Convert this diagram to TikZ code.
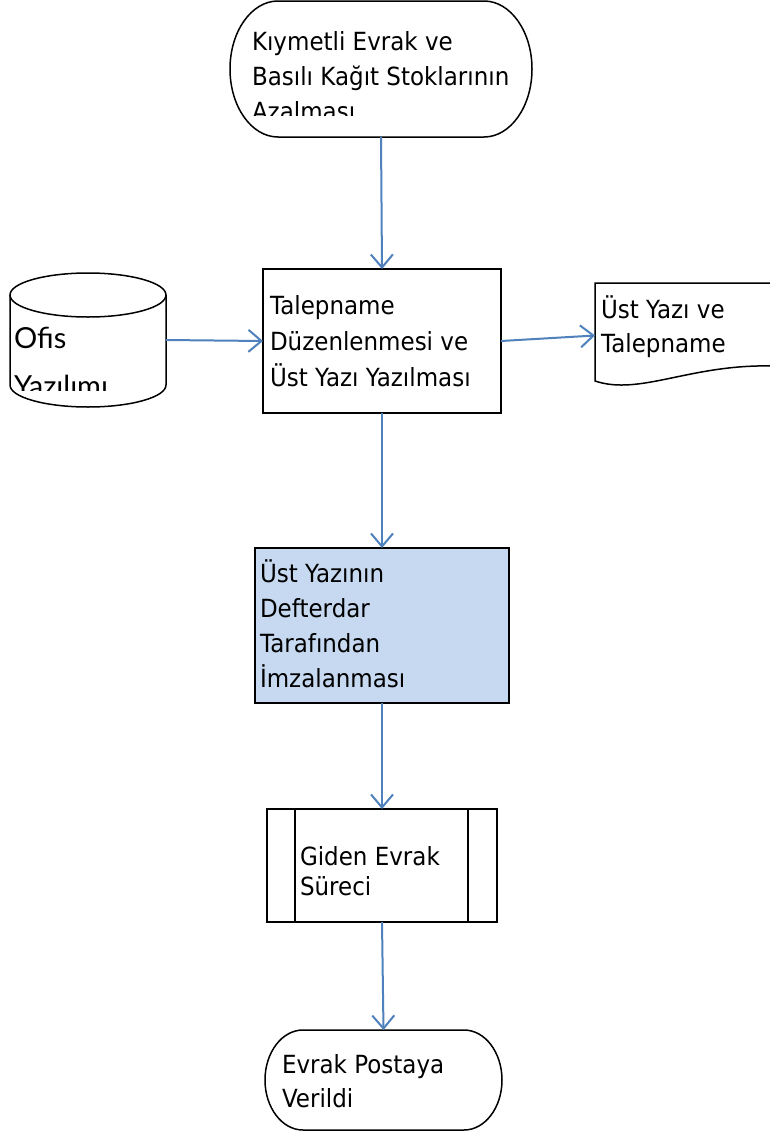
\documentclass[tikz,border=0pt]{standalone}
\usepackage{fontspec}
\setmainfont{DejaVu Sans}[FakeStretch=0.92]
\newfontfamily\gillfont{Lato}
\usetikzlibrary{arrows.meta}
\definecolor{arrowblue}{HTML}{4F81BD}
\definecolor{boxblue}{HTML}{C6D9F1}
\newcommand\boxtext[5]{%
  \node[txt] (#1) at (#2) {\fontsize{25}{#3}\selectfont\parbox[t]{#4}{\raggedright #5}};}
\tikzset{
  shp/.style={draw=black, line width=1.5pt},
  ghost/.style={inner sep=0pt, outer sep=0pt},
  txt/.style={anchor=base west, inner sep=0pt, outer sep=0pt},
  flow/.style={draw=arrowblue, line width=2pt, -{Straight Barb[length=13pt,width=22pt]}},
}
\begin{document}
\begin{tikzpicture}[x=1pt,y=-1pt]
\useasboundingbox (0,0) rectangle (770,1135);
\fill[white] (0,0) rectangle (770,1135);

% start terminator
\draw[shp] (278,1) -- (484,1) arc[start angle=-90, end angle=90, x radius=48, y radius=68]
  -- (278,137) arc[start angle=90, end angle=270, x radius=48, y radius=68] -- cycle;
\node[ghost, minimum width=302pt, minimum height=136pt] (start) at (381,69) {};
\begin{scope}
  \clip (230,0) rectangle (532,115);
  \boxtext{starttext}{252,50}{35}{10cm}{Kıymetli Evrak ve\\Basılı Kağıt Stoklarının\\Azalması}
\end{scope}

% cylinder
\draw[shp, fill=white] (10,295) -- (10,385) arc[start angle=180, end angle=0, x radius=78, y radius=22] -- (166,295);
\draw[shp] (88,295) ellipse[x radius=78, y radius=22];
\node[ghost, minimum width=156pt, minimum height=134pt] (cyl) at (88,340) {};
\begin{scope}
  \clip (10,320) rectangle (166,390);
  \node[txt, font=\gillfont\fontsize{29}{48}\selectfont] (cyltext) at (14,348) {\parbox[t]{4cm}{\raggedright Ofis\\Yazılımı}};
\end{scope}

% process box
\node[shp, ghost, minimum width=238pt, minimum height=144pt] (tal) at (382,341) {};
\boxtext{taltext}{270,314}{36}{8cm}{Talepname\\Düzenlenmesi ve\\Üst Yazı Yazılması}

% document
\draw[shp] (772,283) -- (595,283) -- (595,381) .. controls (640,396) and (690,364) .. (772,366);
\node[ghost, minimum width=175pt, minimum height=105pt] (doc) at (682.5,335.5) {};
\boxtext{doctext}{601,318}{34}{6cm}{Üst Yazı ve\\Talepname}

% signing box
\node[shp, ghost, fill=boxblue, minimum width=254pt, minimum height=155pt] (sign) at (382,625.5) {};
\boxtext{signtext}{260,582}{35}{8cm}{Üst Yazının\\Defterdar\\Tarafından\\İmzalanması}

% predefined process
\node[shp, ghost, minimum width=230pt, minimum height=113pt] (sub) at (382,865.5) {};
\draw[shp] (295,809) -- (295,922);
\draw[shp] (468,809) -- (468,922);
\boxtext{subtext}{300,865}{30}{6cm}{Giden Evrak\\Süreci}

% end terminator
\draw[shp] (303,1030) -- (464,1030) arc[start angle=-90, end angle=90, x radius=38, y radius=50]
  -- (303,1130) arc[start angle=90, end angle=270, x radius=38, y radius=50] -- cycle;
\node[ghost, minimum width=237pt, minimum height=100pt] (end) at (383.5,1080) {};
\boxtext{endtext}{282,1073}{34}{7cm}{Evrak Postaya\\Verildi}

% connectors
\draw[flow] (start.south) -- (tal.north);
\draw[flow] (cyl.east) -- (tal.west);
\draw[flow] (tal.east) -- (doc.west);
\draw[flow] (tal.south) -- (sign.north);
\draw[flow] (sign.south) -- (sub.north);
\draw[flow] (sub.south) -- (end.north);
\end{tikzpicture}
\end{document}
